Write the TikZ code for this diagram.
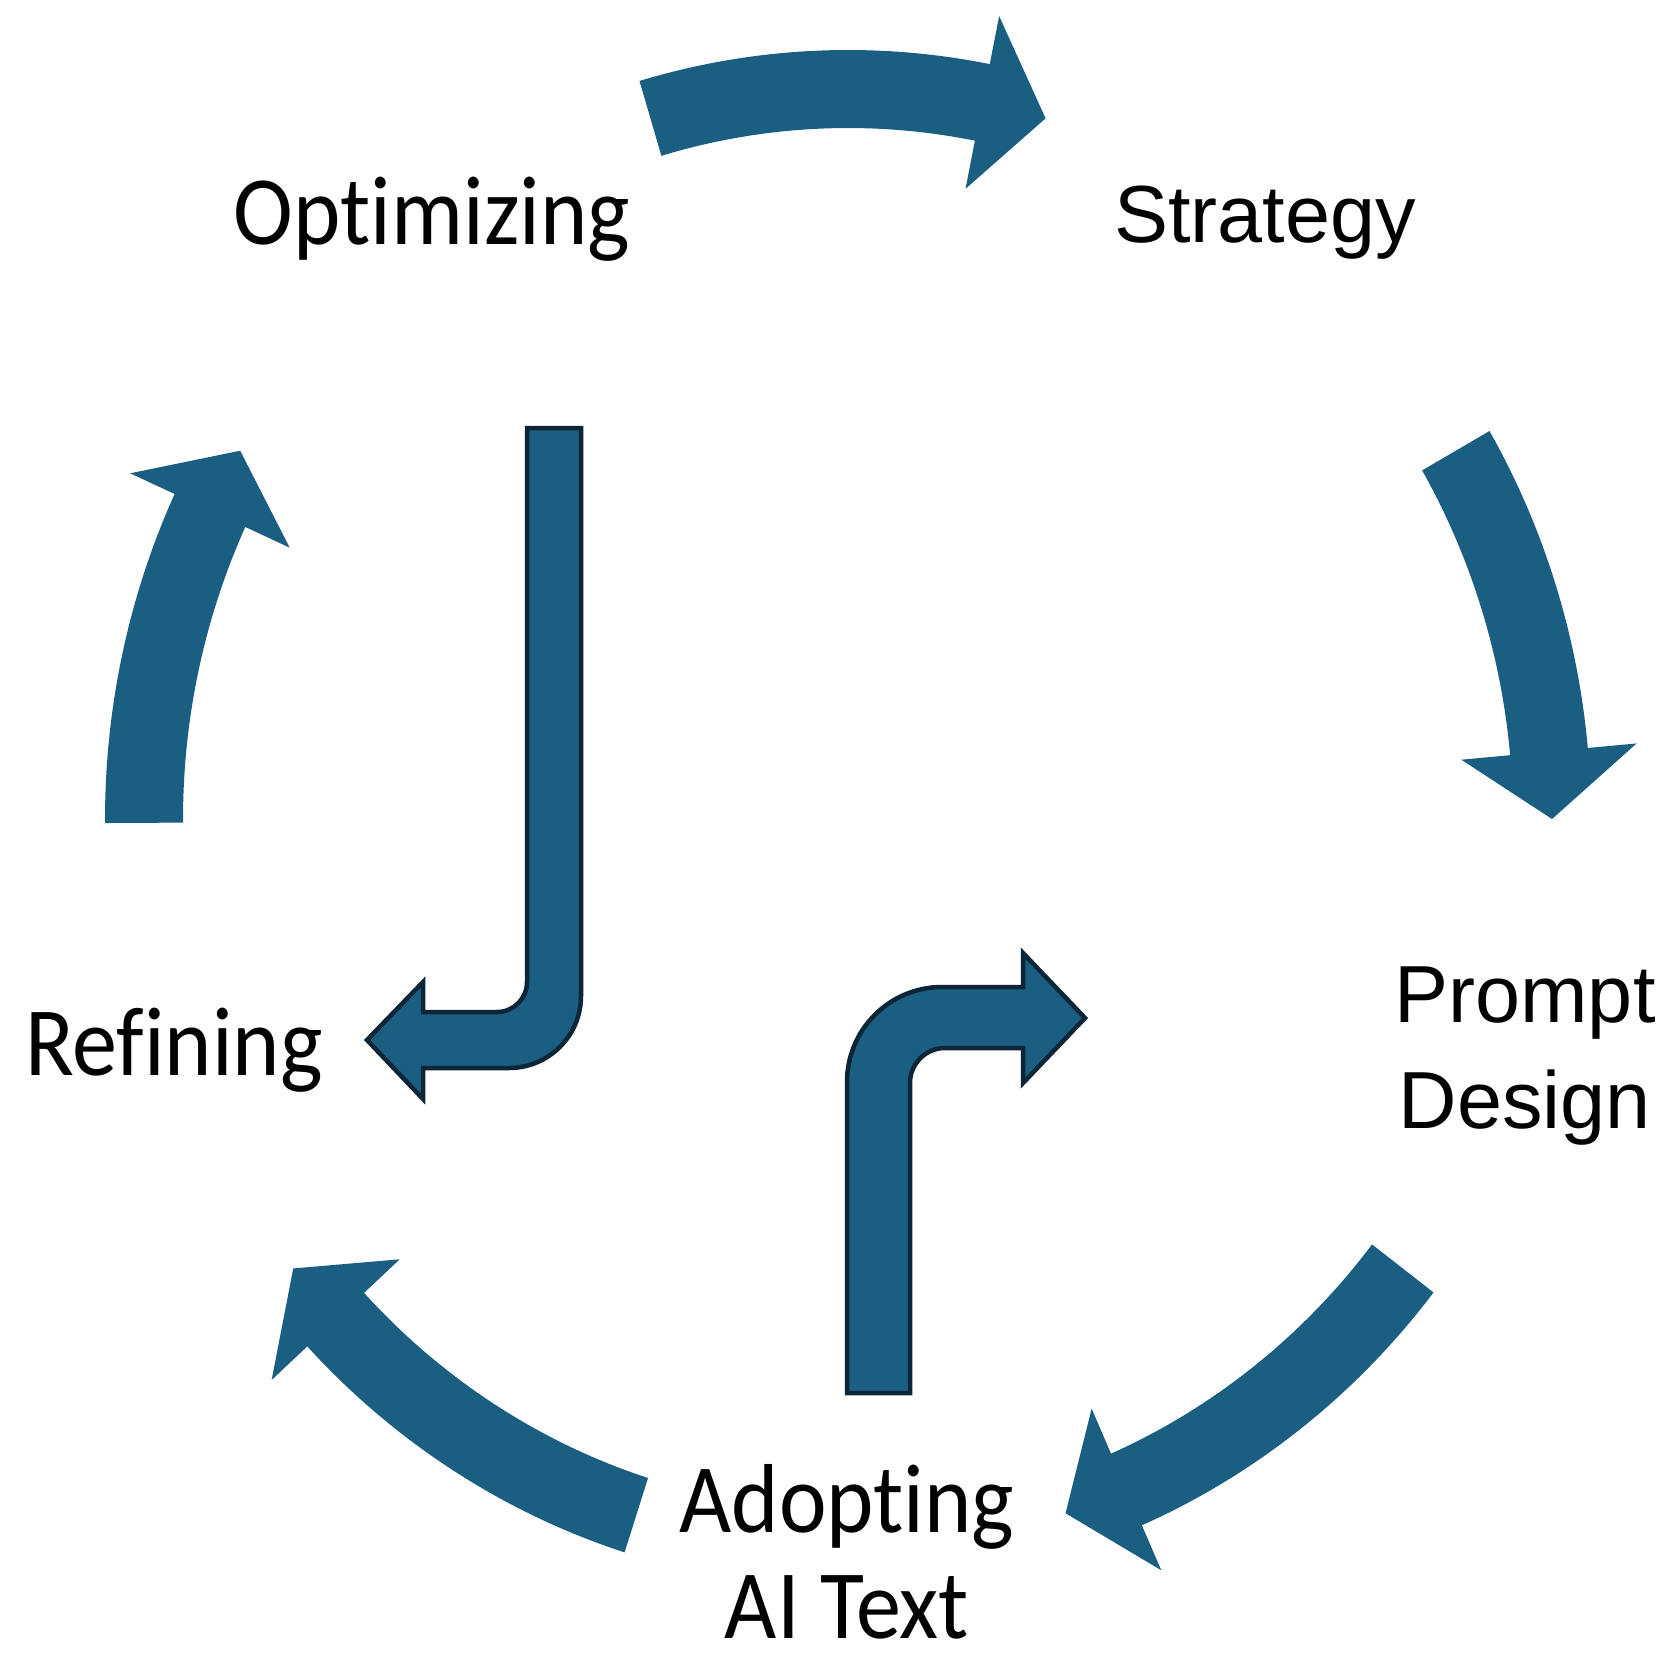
\documentclass[tikz,border=0pt]{standalone}
\usepackage{fontspec}
\setmainfont{Carlito}[Ligatures=NoCommon]
\newfontfamily\arialf{Liberation Sans}
\definecolor{arrowblue}{RGB}{26,95,130}
\definecolor{arrowedge}{RGB}{12,38,56}
\def\cx{848}\def\cy{819}\def\rx{704}\def\ry{730}\def\ww{39}\def\hh{88}
\newcommand\arcarrow[3]{%
  \pgfmathsetmacro\aT{-(#1)}\pgfmathsetmacro\aB{-(#2)}\pgfmathsetmacro\aP{-(#3)}%
  \pgfmathsetmacro\rox{\rx+\ww}\pgfmathsetmacro\roy{\ry+\ww}%
  \pgfmathsetmacro\rix{\rx-\ww}\pgfmathsetmacro\riy{\ry-\ww}%
  \fill[arcfill] ({\cx+\rox*cos(\aT)},{\cy+\roy*sin(\aT)})
    arc[start angle=\aT, end angle=\aB, x radius=\rox, y radius=\roy]
    -- ({\cx+(\rx+\hh)*cos(\aB)},{\cy+(\ry+\hh)*sin(\aB)})
    -- ({\cx+\rx*cos(\aP)},{\cy+\ry*sin(\aP)})
    -- ({\cx+(\rx-\hh)*cos(\aB)},{\cy+(\ry-\hh)*sin(\aB)})
    -- ({\cx+\rix*cos(\aB)},{\cy+\riy*sin(\aB)})
    arc[start angle=\aB, end angle=\aT, x radius=\rix, y radius=\riy]
    -- cycle;}
\begin{document}
\begin{tikzpicture}[x=1pt,y=-1pt,
  lblA/.style={inner sep=0pt, anchor=base, font=\fontsize{98}{110}\selectfont},
  lblB/.style={inner sep=0pt, anchor=base, font=\arialf\fontsize{81}{100}\selectfont},
  arcfill/.style={fill=arrowblue},
  bent/.style={fill=arrowblue, draw=arrowedge, line width=4.5pt, line join=miter}]
\useasboundingbox (0,0) rectangle (1680,1677);
\fill[white] (0,0) rectangle (1680,1677);

% cycle arrows
\arcarrow{106.3}{79}{73.7}
\arcarrow{30.3}{5.3}{0}
\arcarrow{-38}{-66.7}{-72}
\arcarrow{-107.5}{-136.7}{-142}
\arcarrow{180.3}{155}{149.7}

% bent arrow: down then left
\draw[bent] (527,428) -- (581,428) -- (581,996)
  arc[start angle=0, end angle=90, radius=72]
  -- (423,1068) -- (423,1099) -- (367,1040) -- (423,982) -- (423,1012)
  -- (497,1012) arc[start angle=90, end angle=0, radius=30] -- cycle;

% bent arrow: up then right
\draw[bent] (847,1393) -- (847,1082)
  arc[start angle=180, end angle=270, radius=95]
  -- (1023,987) -- (1023,953) -- (1085,1018) -- (1023,1083) -- (1023,1048)
  -- (945,1048) arc[start angle=270, end angle=180, radius=35] -- (910,1393) -- cycle;

% labels
\node[lblA] (opt) at (432,245) {\scalebox{0.92}[1]{Optimizing}};
\node[lblB] (str) at (1265,243) {Strategy};
\node[lblB] (pd1) at (1525,1022) {Prompt};
\node[lblB] (pd2) at (1525,1128) {Design};
\node[lblA] (ad1) at (847,1532) {\scalebox{0.92}[1]{Adopting}};
\node[lblA] (ad2) at (847,1638) {\scalebox{0.92}[1]{AI Text}};
\node[lblA] (ref) at (174,1075) {\scalebox{0.92}[1]{Refining}};
\end{tikzpicture}
\end{document}
